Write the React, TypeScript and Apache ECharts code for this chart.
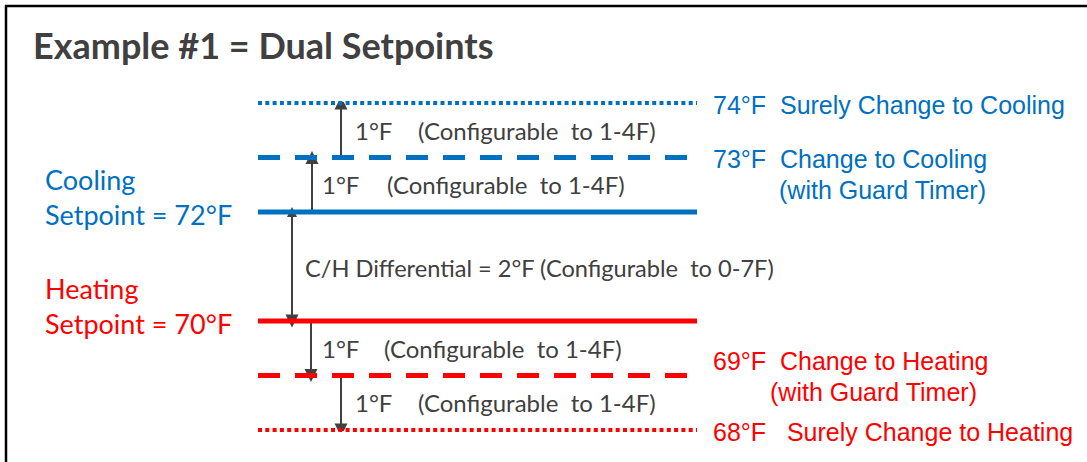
import React, { useEffect, useRef } from 'react';
import * as echarts from 'echarts';

// ---------- data ----------
const TITLE = 'Example #1 = Dual Setpoints';
const levels = [74, 73, 72, 70, 69, 68];
const levelKinds = ['dotted', 'dashed', 'solid', 'solid', 'dashed', 'dotted'];
const levelSide = ['cool', 'cool', 'cool', 'heat', 'heat', 'heat'];
const rightLabels: string[][] = [
  ['74°F  Surely Change to Cooling'],
  ['73°F  Change to Cooling', '(with Guard Timer)'],
  [],
  [],
  ['69°F  Change to Heating', '(with Guard Timer)'],
  ['68°F   Surely Change to Heating'],
];
const setpointLabels = [
  { level: 72, name: 'Cooling', text: 'Setpoint = 72°F', side: 'cool' },
  { level: 70, name: 'Heating', text: 'Setpoint = 70°F', side: 'heat' },
];
const stepFrom = [73, 72, 70, 69];
const stepTo = [74, 73, 69, 68];
const stepText = ['1°F', '1°F', '1°F', '1°F'];
const stepNote = ['(Configurable  to 1-4F)', '(Configurable  to 1-4F)', '(Configurable  to 1-4F)', '(Configurable  to 1-4F)'];
const diffLevels = [72, 70];
const diffText = 'C/H Differential = 2°F (Configurable  to 0-7F)';

// ---------- layout / style ----------
const W = 1087;
const H = 462;
const LINE_X0 = 258;
const LINE_X1 = 697;
const BLUE = '#0070C0';
const RED = '#FF0000';
const GRAY = '#404040';
const colorOf = (s: string) => (s === 'cool' ? BLUE : RED);
const dashOf = (k: string): any => (k === 'dotted' ? [4, 3.3] : k === 'dashed' ? [22, 15] : 'solid');
const widthOf = (k: string) => (k === 'dotted' ? 4 : 5);
const stepArrowX = [341, 312, 311, 341];
const stepTextX = [355, 322, 322, 355];
const stepNoteX = [418, 387, 384, 418];
const rightOffsets = [2, 1, 0, 0, -15, 2];
const rightSecondX = [0, 779, 0, 0, 770, 0];
const DIFF_X = 292;
const DIFF_TEXT_X = 305;

const CAL = 'Lato, "Open Sans", sans-serif';
const ARIAL = '"Liberation Sans", Arial, sans-serif';

export default function App() {
  const ref = useRef<HTMLDivElement>(null);
  useEffect(() => {
    if (!ref.current) return;
    const chart = echarts.init(ref.current, undefined, { renderer: 'svg' });

    const levelSeries = levels.map((lv, i) => ({
      type: 'line',
      data: [[LINE_X0, lv], [LINE_X1, lv]],
      symbol: 'none',
      silent: true,
      clip: false,
      lineStyle: { color: colorOf(levelSide[i]), width: widthOf(levelKinds[i]), type: dashOf(levelKinds[i]), cap: 'butt' },
    }));

    const arrowData = stepFrom.map((f, i) => ({ coords: [[stepArrowX[i], f], [stepArrowX[i], stepTo[i]]] }));

    chart.setOption({
      animation: false,
      grid: { left: 0, right: 0, top: 103, bottom: H - 430 },
      xAxis: { type: 'value', min: 0, max: W, show: false },
      yAxis: { type: 'value', min: 68, max: 74, show: false },
      series: [
        ...levelSeries,
        {
          type: 'lines',
          coordinateSystem: 'cartesian2d',
          silent: true,
          symbol: ['none', 'triangle'],
          symbolSize: [10, 13],
          symbolOffset: [0, 6],
          lineStyle: { color: GRAY, width: 2, curveness: 0, opacity: 1 },
          data: arrowData,
        },
        {
          type: 'lines',
          coordinateSystem: 'cartesian2d',
          silent: true,
          symbol: ['triangle', 'triangle'],
          symbolSize: [10, 13],
          symbolOffset: [0, 12],
          lineStyle: { color: GRAY, width: 2, curveness: 0, opacity: 1 },
          data: [{ coords: [[DIFF_X, diffLevels[0]], [DIFF_X, diffLevels[1]]] }],
        },
      ],
    });

    const py = (v: number) => (chart.convertToPixel({ xAxisIndex: 0, yAxisIndex: 0 }, [0, v]) as number[])[1];

    const txt = (text: string, x: number, y: number, font: string, fill: string, sy = 1) => ({
      type: 'text',
      x,
      y,
      scaleY: sy,
      silent: true,
      style: { text, x: 0, y: 0, font, fill, textAlign: 'left', textVerticalAlign: 'middle', align: 'left', verticalAlign: 'middle' },
    });

    const g: any[] = [];
    // frame
    g.push({ type: 'line', shape: { x1: 5, y1: 6, x2: W, y2: 6 }, style: { stroke: '#000', lineWidth: 2.5 } });
    g.push({ type: 'line', shape: { x1: 6, y1: 5, x2: 6, y2: H }, style: { stroke: '#000', lineWidth: 2.5 } });
    // title
    g.push(txt(TITLE, 33, 45, `bold 36px ${CAL}`, GRAY));
    // setpoint labels
    setpointLabels.forEach((s) => {
      const y = py(s.level);
      g.push(txt(s.name, 45, y - 33, `27px ${CAL}`, colorOf(s.side)));
      g.push(txt(s.text, 45, y + 2, `27px ${CAL}`, colorOf(s.side)));
    });
    // step texts
    stepFrom.forEach((f, i) => {
      const y = py((f + stepTo[i]) / 2);
      g.push(txt(stepText[i], stepTextX[i], y, `24px ${CAL}`, GRAY));
      g.push(txt(stepNote[i], stepNoteX[i], y, `24px ${CAL}`, GRAY));
    });
    // diff text
    g.push(txt(diffText, DIFF_TEXT_X, py((diffLevels[0] + diffLevels[1]) / 2) + 1.5, `23.6px ${CAL}`, GRAY));
    // right labels
    levels.forEach((lv, i) => {
      const lines = rightLabels[i];
      if (!lines.length) return;
      const y = py(lv) + rightOffsets[i];
      g.push(txt(lines[0], 713, y, `25px ${ARIAL}`, colorOf(levelSide[i])));
      if (lines[1]) g.push(txt(lines[1], rightSecondX[i], y + 31, `25px ${ARIAL}`, colorOf(levelSide[i])));
    });

    chart.setOption({ graphic: g });

    return () => chart.dispose();
  }, []);
  return <div ref={ref} style={{ position: 'absolute', left: 0, top: 0, width: W, height: H, background: '#fff' }} />;
}
